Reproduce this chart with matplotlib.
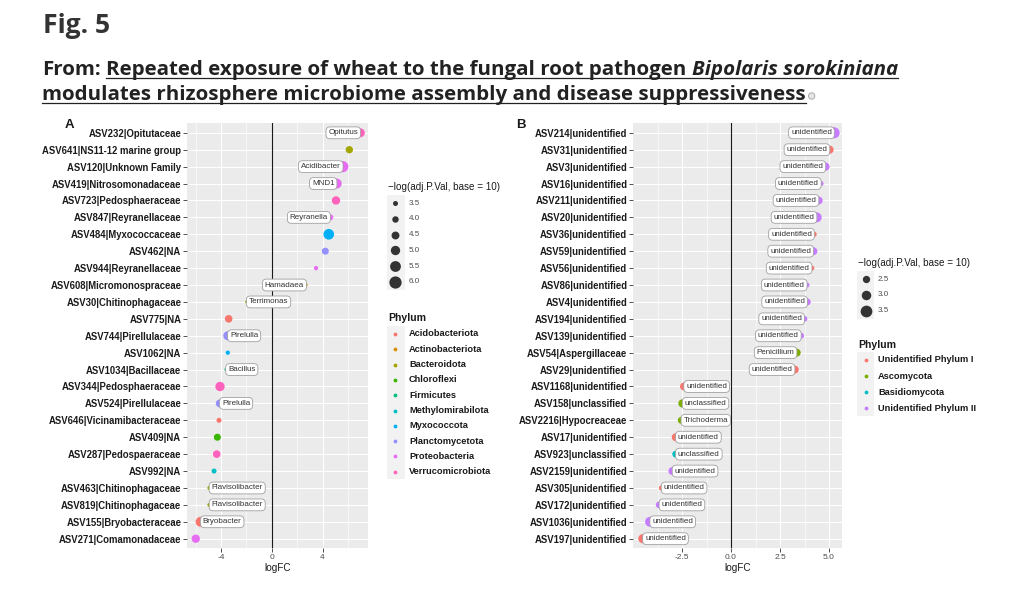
"""
Differential abundance dot plots (bacteria / fungi), redrawn with matplotlib.
"""

import numpy as np
import matplotlib

matplotlib.use("Agg")
import matplotlib.pyplot as plt
from matplotlib.patches import Rectangle, Circle

W, H = 1023, 591

# ---- panel A: bacteria ----
ASV_A = [
    "ASV232|Opitutaceae", "ASV641|NS11-12 marine group", "ASV120|Unknown Family",
    "ASV419|Nitrosomonadaceae", "ASV723|Pedosphaeraceae", "ASV847|Reyranellaceae",
    "ASV484|Myxococcaceae", "ASV462|NA", "ASV944|Reyranellaceae",
    "ASV608|Micromonospraceae", "ASV30|Chitinophagaceae", "ASV775|NA",
    "ASV744|Pirellulaceae", "ASV1062|NA", "ASV1034|Bacillaceae",
    "ASV344|Pedosphaeraceae", "ASV524|Pirellulaceae", "ASV646|Vicinamibacteraceae",
    "ASV409|NA", "ASV287|Pedospaeraceae", "ASV992|NA", "ASV463|Chitinophagaceae",
    "ASV819|Chitinophagaceae", "ASV155|Bryobacteraceae", "ASV271|Comamonadaceae",
]
LOGFC_A = [6.98, 6.11, 5.60, 5.12, 5.06, 4.61, 4.49, 4.22, 3.49, 2.72, -1.98, -3.39,
           -3.46, -3.46, -3.61, -4.07, -4.09, -4.15, -4.28, -4.33, -4.54, -4.91,
           -4.91, -5.60, -5.98]
PVAL_A = [4.85, 4.3, 5.6, 5.2, 4.65, 3.85, 5.45, 4.2, 3.25, 2.8, 2.8, 4.4, 4.9, 3.25,
          2.8, 5.0, 4.5, 3.5, 4.2, 4.4, 3.5, 3.15, 3.15, 5.2, 4.65]
PHYLUM_A = [
    "Verrucomicrobiota", "Bacteroidota", "Proteobacteria", "Proteobacteria",
    "Verrucomicrobiota", "Proteobacteria", "Myxococcota", "Planctomycetota",
    "Proteobacteria", "Actinobacteriota", "Bacteroidota", "Acidobacteriota",
    "Planctomycetota", "Myxococcota", "Firmicutes", "Verrucomicrobiota",
    "Planctomycetota", "Acidobacteriota", "Chloroflexi", "Verrucomicrobiota",
    "Methylomirabilota", "Bacteroidota", "Bacteroidota", "Acidobacteriota",
    "Proteobacteria",
]
GENUS_A = ["Opitutus", "", "Acidibacter", "MND1", "", "Reyranella", "", "", "",
           "Hamadaea", "Terrimonas", "", "Pirelulla", "", "Bacillus", "", "Pirelulla",
           "", "", "", "", "Flavisolibacter", "Flavisolibacter", "Bryobacter", ""]
LEVELS_A = ["Acidobacteriota", "Actinobacteriota", "Bacteroidota", "Chloroflexi",
            "Firmicutes", "Methylomirabilota", "Myxococcota", "Planctomycetota",
            "Proteobacteria", "Verrucomicrobiota"]
COLORS_A = ["#F8766D", "#D89000", "#A3A500", "#39B600", "#00BF7D", "#00BFC4",
            "#00B0F6", "#9590FF", "#E76BF3", "#FF62BC"]
SIZE_BREAKS_A = [3.5, 4.0, 4.5, 5.0, 5.5, 6.0]

# ---- panel B: fungi ----
ASV_B = [
    "ASV214|unidentified", "ASV31|unidentified", "ASV3|unidentified",
    "ASV16|unidentified", "ASV211|unidentified", "ASV20|unidentified",
    "ASV36|unidentified", "ASV59|unidentified", "ASV56|unidentified",
    "ASV86|unidentified", "ASV4|unidentified", "ASV194|unidentified",
    "ASV139|unidentified", "ASV54|Aspergillaceae", "ASV29|unidentified",
    "ASV1168|unidentified", "ASV158|unclassified", "ASV2216|Hypocreaceae",
    "ASV17|unidentified", "ASV923|unclassified", "ASV2159|unidentified",
    "ASV305|unidentified", "ASV172|unidentified", "ASV1036|unidentified",
    "ASV197|unidentified",
]
LOGFC_B = [5.26, 5.03, 4.82, 4.59, 4.47, 4.37, 4.24, 4.20, 4.12, 3.87, 3.89, 3.74,
           3.57, 3.35, 3.25, -2.40, -2.48, -2.54, -2.82, -2.82, -2.99, -3.55, -3.66,
           -4.13, -4.50]
PVAL_B = [3.35, 2.65, 2.7, 2.0, 2.65, 3.1, 2.0, 2.65, 2.0, 2.0, 2.4, 2.2, 2.2, 2.65,
          2.65, 2.65, 2.7, 2.4, 2.65, 2.4, 2.65, 2.0, 2.4, 3.1, 2.9]
PHYLUM_B = [
    "Unidentified Phylum II", "Unidentified Phylum I", "Unidentified Phylum II",
    "Unidentified Phylum II", "Unidentified Phylum II", "Unidentified Phylum II",
    "Unidentified Phylum I", "Unidentified Phylum II", "Unidentified Phylum I",
    "Unidentified Phylum II", "Unidentified Phylum II", "Unidentified Phylum II",
    "Unidentified Phylum II", "Ascomycota", "Unidentified Phylum I",
    "Unidentified Phylum I", "Ascomycota", "Ascomycota", "Unidentified Phylum I",
    "Basidiomycota", "Unidentified Phylum II", "Unidentified Phylum I",
    "Unidentified Phylum II", "Unidentified Phylum II", "Unidentified Phylum I",
]
GENUS_B = ["unidentified"] * 13 + ["Penicillium", "unidentified", "unidentified",
           "unclassified", "Trichoderma", "unidentified", "unclassified"] + \
          ["unidentified"] * 5
LEVELS_B = ["Unidentified Phylum I", "Ascomycota", "Basidiomycota",
            "Unidentified Phylum II"]
COLORS_B = ["#F8766D", "#7CAE00", "#00BFC4", "#C77CFF"]
SIZE_BREAKS_B = [2.5, 3.0, 3.5]

SIZE_TITLE = "\u2212log(adj.P.Val, base = 10)"


def diam_a(v):
    return 5.0 + (v - 3.5) * 2.9


def diam_b(v):
    return 7.3 + (v - 2.5) * 4.4


def area(d_px):
    # pixel diameter -> scatter size (pt^2) at 100 dpi
    return (max(d_px, 2.5) * 0.72) ** 2


def px_axes(fig, left, top, right, bottom):
    return fig.add_axes([left / W, 1 - bottom / H, (right - left) / W, (bottom - top) / H])


def draw_panel(ax, names, fc, pv, phy, labs, palette, diam, xlim, ticks, ticklabels, minor):
    n = len(names)
    y = np.arange(n)[::-1]
    ax.set_facecolor("#EBEBEB")
    ax.set_xlim(*xlim)
    ax.set_ylim(-0.55, n - 0.42)
    ax.set_xticks(ticks)
    ax.set_xticklabels(ticklabels, color="#4D4D4D", fontsize=6, family="Liberation Sans")
    ax.set_xticks(minor, minor=True)
    ax.set_yticks(y)
    ax.set_yticklabels(names, fontweight="bold", fontsize=6.85, color="#1A1A1A",
                       family="Liberation Sans")
    ax.grid(True, which="major", color="white", lw=0.75)
    ax.grid(True, which="minor", axis="x", color="white", lw=0.4)
    ax.set_axisbelow(True)
    for s in ax.spines.values():
        s.set_visible(False)
    ax.tick_params(which="major", length=2.6, width=0.6, color="#333333", pad=1.5)
    ax.tick_params(which="minor", length=0)
    ax.axvline(0, color="#1A1A1A", lw=0.8, zorder=1)

    colors = [palette[p] for p in phy]
    sizes = [area(diam(v)) for v in pv]
    ax.scatter(fc, y, s=sizes, c=colors, linewidths=0, zorder=2)
    for xi, yi, lab in zip(fc, y, labs):
        if not lab:
            continue
        right = xi > 0
        ax.annotate(lab, (xi, yi), xytext=(-1.6 if right else 1.6, 0),
                    textcoords="offset points", ha="right" if right else "left",
                    va="center", fontsize=5.8, color="#333333", family="Liberation Sans",
                    bbox=dict(boxstyle="round,pad=0.3,rounding_size=0.5", fc="white",
                              ec="#A0A0A0", lw=0.6),
                    zorder=3)
    ax.set_xlabel("logFC", fontsize=7.2, color="#1A1A1A", labelpad=1.5,
                  family="Liberation Sans")


def draw_legend(ov, x, title_y, levels, colors, size_breaks, diam, size_y0, size_step,
                phy_title_y, phy_y0, phy_step, dot_x, text_x, bg_w):
    ov.text(x, title_y, SIZE_TITLE, fontsize=7.1, va="center", color="#1A1A1A",
            family="Liberation Sans")
    n = len(size_breaks)
    ov.add_patch(Rectangle((x - 1, size_y0 - size_step / 2), bg_w, size_step * n,
                           fc="#F2F2F2", ec="none"))
    for i, v in enumerate(size_breaks):
        yy = size_y0 + i * size_step
        ov.scatter([dot_x], [yy], s=area(diam(v)), c="#333333", linewidths=0)
        ov.text(text_x, yy, f"{v:.1f}", fontsize=5.8, va="center", color="#4D4D4D",
                family="Liberation Sans")

    ov.text(x, phy_title_y, "Phylum", fontsize=7.6, va="center", color="#1A1A1A",
            fontweight="bold", family="Liberation Sans")
    m = len(levels)
    ov.add_patch(Rectangle((x - 1, phy_y0 - phy_step / 2), bg_w, phy_step * m,
                           fc="#F2F2F2", ec="none"))
    for i, (lev, col) in enumerate(zip(levels, colors)):
        yy = phy_y0 + i * phy_step
        ov.scatter([dot_x], [yy], s=area(3.8), c=col, linewidths=0)
        ov.text(text_x, yy, lev, fontsize=6.7, va="center", color="#1A1A1A",
                fontweight="bold", family="Liberation Sans")


def draw_header(fig, ov):
    renderer = fig.canvas.get_renderer()
    color = "#222222"
    family = "Open Sans"

    def put(x, yb, s, size, style="normal", col=color):
        t = ov.text(x, yb, s, fontsize=size, fontweight="bold", fontstyle=style,
                    family=family, color=col, va="baseline", ha="left")
        bb = t.get_window_extent(renderer)
        return t, bb.x0, bb.x1

    def space(size):
        a, _, a1 = put(0, -50, "a a", size)
        b, _, b1 = put(0, -50, "aa", size)
        a.remove()
        b.remove()
        return a1 - b1

    def line1(size):
        sp = space(size)
        t1, _, e1 = put(42, 75, "From:", size)
        t2, s2, e2 = put(e1 + sp, 75, "Repeated exposure of wheat to the fungal root pathogen", size)
        t3, _, e3 = put(e2 + sp, 75, "Bipolaris sorokiniana", size, "italic")
        return [t1, t2, t3], s2, e3

    texts, _, end = line1(14)
    fs = 14 * (902 - 42) / (end - 42)
    for t in texts:
        t.remove()
    texts, s2, e3 = line1(fs)
    ov.plot([s2, e3], [77.8, 77.8], color=color, lw=0.9)

    _, s4, e4 = put(42, 100, "modulates rhizosphere microbiome assembly and disease suppressiveness", fs)
    ov.plot([s4, e4], [102.8, 102.8], color=color, lw=0.9)
    ov.add_patch(Circle((e4 + 6, 96), 3.2, fc="#E6E6E6", ec="#A0A0A0", lw=0.6))

    t, x0, x1 = put(43, 33, "Fig. 5", 18, col="#333333")
    t.set_fontsize(18 * 67 / (x1 - x0))


def main():
    fig = plt.figure(figsize=(W / 100, H / 100), dpi=100)
    ov = fig.add_axes([0, 0, 1, 1])
    ov.set_xlim(0, W)
    ov.set_ylim(H, 0)
    ov.axis("off")

    ax_a = px_axes(fig, 187, 123, 368, 548)
    ax_b = px_axes(fig, 633, 123, 842, 548)

    draw_panel(ax_a, ASV_A, LOGFC_A, PVAL_A, PHYLUM_A, GENUS_A,
               dict(zip(LEVELS_A, COLORS_A)), diam_a, (-6.67, 7.58),
               [-4, 0, 4], ["-4", "0", "4"], [-6, -2, 2, 6])
    draw_panel(ax_b, ASV_B, LOGFC_B, PVAL_B, PHYLUM_B, GENUS_B,
               dict(zip(LEVELS_B, COLORS_B)), diam_b, (-5.0, 5.66),
               [-2.5, 0, 2.5, 5.0], ["-2.5", "0.0", "2.5", "5.0"],
               [-3.75, -1.25, 1.25, 3.75])

    ov.text(65, 125, "A", fontsize=9.5, fontweight="bold", va="center",
            family="Liberation Sans", color="#1A1A1A")
    ov.text(516, 125, "B", fontsize=9.5, fontweight="bold", va="center",
            family="Liberation Sans", color="#1A1A1A")

    draw_legend(ov, 388, 187, LEVELS_A, COLORS_A, SIZE_BREAKS_A, diam_a,
                203.3, 15.7, 318, 334, 15.3, 395, 409, 18)
    draw_legend(ov, 858, 263, LEVELS_B, COLORS_B, SIZE_BREAKS_B, diam_b,
                279.3, 15.7, 345, 360, 16.1, 866, 878, 17)

    draw_header(fig, ov)

    fig.savefig("out.png", dpi=100)


if __name__ == "__main__":
    main()
